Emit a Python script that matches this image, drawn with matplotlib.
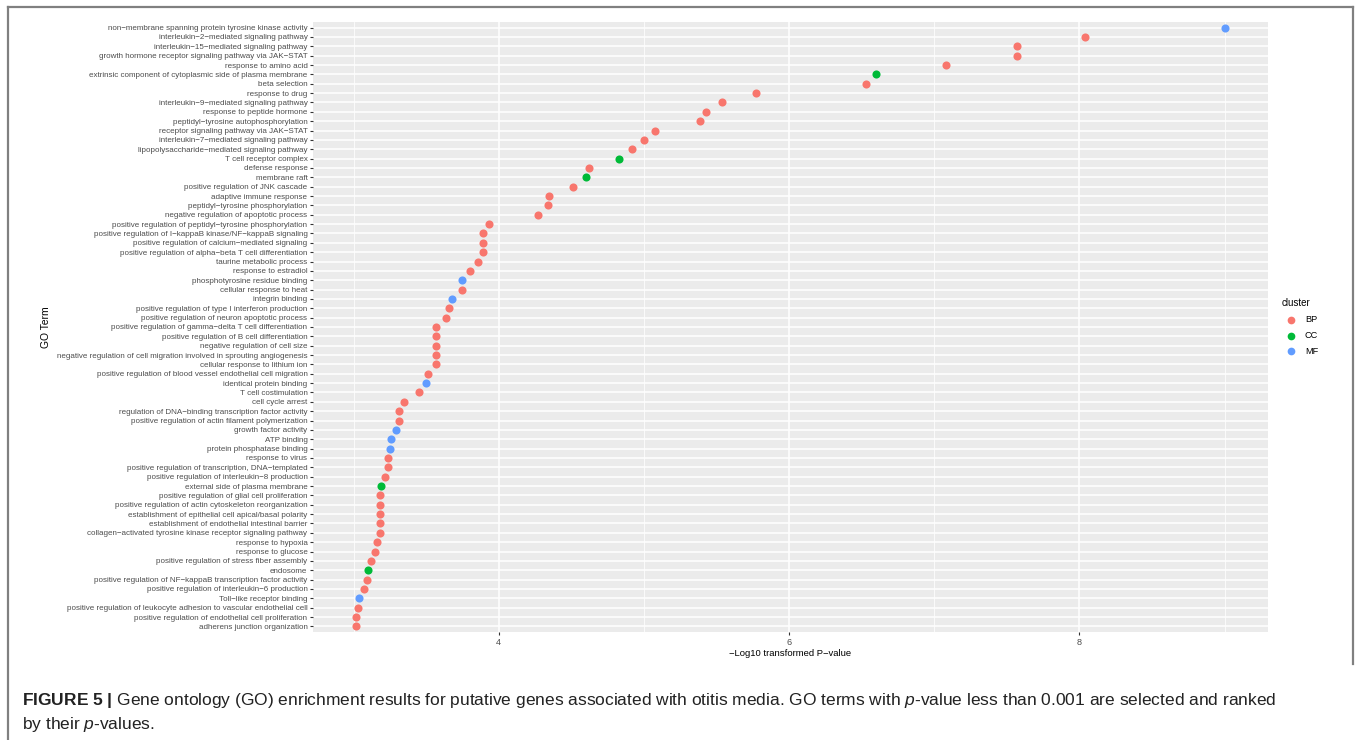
import numpy as np
import matplotlib; matplotlib.use('Agg'); import matplotlib.pyplot as plt
from matplotlib.lines import Line2D

plt.rcParams['font.family'] = ['Liberation Sans', 'DejaVu Sans']
plt.rcParams['mathtext.fontset'] = 'custom'
plt.rcParams['mathtext.rm'] = 'Liberation Sans'
plt.rcParams['mathtext.it'] = 'Liberation Sans:italic'
plt.rcParams['mathtext.bf'] = 'Liberation Sans:bold'

terms = [
    "non\u2212membrane spanning protein tyrosine kinase activity",
    "interleukin\u22122\u2212mediated signaling pathway",
    "interleukin\u221215\u2212mediated signaling pathway",
    "growth hormone receptor signaling pathway via JAK\u2212STAT",
    "response to amino acid",
    "extrinsic component of cytoplasmic side of plasma membrane",
    "beta selection",
    "response to drug",
    "interleukin\u22129\u2212mediated signaling pathway",
    "response to peptide hormone",
    "peptidyl\u2212tyrosine autophosphorylation",
    "receptor signaling pathway via JAK\u2212STAT",
    "interleukin\u22127\u2212mediated signaling pathway",
    "lipopolysaccharide\u2212mediated signaling pathway",
    "T cell receptor complex",
    "defense response",
    "membrane raft",
    "positive regulation of JNK cascade",
    "adaptive immune response",
    "peptidyl\u2212tyrosine phosphorylation",
    "negative regulation of apoptotic process",
    "positive regulation of peptidyl\u2212tyrosine phosphorylation",
    "positive regulation of I\u2212kappaB kinase/NF\u2212kappaB signaling",
    "positive regulation of calcium\u2212mediated signaling",
    "positive regulation of alpha\u2212beta T cell differentiation",
    "taurine metabolic process",
    "response to estradiol",
    "phosphotyrosine residue binding",
    "cellular response to heat",
    "integrin binding",
    "positive regulation of type I interferon production",
    "positive regulation of neuron apoptotic process",
    "positive regulation of gamma\u2212delta T cell differentiation",
    "positive regulation of B cell differentiation",
    "negative regulation of cell size",
    "negative regulation of cell migration involved in sprouting angiogenesis",
    "cellular response to lithium ion",
    "positive regulation of blood vessel endothelial cell migration",
    "identical protein binding",
    "T cell costimulation",
    "cell cycle arrest",
    "regulation of DNA\u2212binding transcription factor activity",
    "positive regulation of actin filament polymerization",
    "growth factor activity",
    "ATP binding",
    "protein phosphatase binding",
    "response to virus",
    "positive regulation of transcription, DNA\u2212templated",
    "positive regulation of interleukin\u22128 production",
    "external side of plasma membrane",
    "positive regulation of glial cell proliferation",
    "positive regulation of actin cytoskeleton reorganization",
    "establishment of epithelial cell apical/basal polarity",
    "establishment of endothelial intestinal barrier",
    "collagen\u2212activated tyrosine kinase receptor signaling pathway",
    "response to hypoxia",
    "response to glucose",
    "positive regulation of stress fiber assembly",
    "endosome",
    "positive regulation of NF\u2212kappaB transcription factor activity",
    "positive regulation of interleukin\u22126 production",
    "Toll\u2212like receptor binding",
    "positive regulation of leukocyte adhesion to vascular endothelial cell",
    "positive regulation of endothelial cell proliferation",
    "adherens junction organization",
]
neglogp = [9.00, 8.04, 7.57, 7.57, 7.08, 6.60, 6.53, 5.77, 5.54, 5.43,
           5.39, 5.08, 5.00, 4.92, 4.83, 4.62, 4.60, 4.51, 4.35, 4.34,
           4.27, 3.93, 3.89, 3.89, 3.89, 3.86, 3.80, 3.75, 3.75, 3.68,
           3.66, 3.64, 3.57, 3.57, 3.57, 3.57, 3.57, 3.51, 3.50, 3.45,
           3.35, 3.31, 3.31, 3.29, 3.26, 3.25, 3.24, 3.24, 3.22, 3.19,
           3.18, 3.18, 3.18, 3.18, 3.18, 3.16, 3.15, 3.12, 3.10, 3.09,
           3.07, 3.04, 3.03, 3.02, 3.02]
cluster = (['MF'] + ['BP']*4 + ['CC'] + ['BP']*8 + ['CC', 'BP', 'CC'] + ['BP']*10
           + ['MF', 'BP', 'MF'] + ['BP']*8 + ['MF'] + ['BP']*4 + ['MF']*3 + ['BP']*3
           + ['CC'] + ['BP']*8 + ['CC', 'BP', 'BP', 'MF', 'BP', 'BP', 'BP'])
colors = {'BP': '#F8766D', 'CC': '#00BA38', 'MF': '#619CFF'}

n = len(terms)
x = np.array(neglogp); y = n - 1 - np.arange(n)
cl = np.array(cluster)

fig = plt.figure(figsize=(13.56, 7.4), dpi=100)
ax = fig.add_axes([313/1356, 1-632/740, 955/1356, 610/740])
ax.set_facecolor('#EBEBEB')
for s in ax.spines.values(): s.set_visible(False)

rng = x.max() - x.min()
ax.set_xlim(x.min() - 0.05*rng, x.max() + 0.05*rng)
ax.set_ylim(-0.6, n - 0.4)
ax.set_xticks([4, 6, 8]); ax.set_xticks([3, 5, 7, 9], minor=True)
ax.set_yticks(y); ax.set_yticklabels(terms)
ax.grid(which='major', color='white', lw=1.1)
ax.grid(which='minor', axis='x', color='white', lw=0.55)
ax.set_axisbelow(True)
ax.tick_params(axis='both', which='major', length=2.5, width=0.8, color='#333333',
               labelsize=5.8, labelcolor='#4D4D4D', pad=1.5)
ax.tick_params(axis='x', which='major', labelsize=6.6)
ax.tick_params(axis='x', which='minor', length=0)

for c in ['BP', 'CC', 'MF']:
    m = cl == c
    ax.scatter(x[m], y[m], s=34, color=colors[c], label=c, zorder=3, linewidths=0)

ax.set_xlabel('\u2212Log10 transformed P\u2212value', fontsize=6.8, labelpad=2)
ax.set_ylabel('GO Term', fontsize=7.4, labelpad=4)

leg = ax.legend(title='cluster', loc='center left', bbox_to_anchor=(1.005, 0.5),
                frameon=False, fontsize=6.6, title_fontsize=7.0, handletextpad=0.5,
                labelspacing=0.75, markerscale=0.95, borderaxespad=0.6)
leg._legend_box.align = 'left'

# outer frame of the figure panel
fr = dict(color='#808080', lw=1.6, transform=fig.transFigure)
fig.add_artist(Line2D([8/1356, 1353/1356], [1-7/740, 1-7/740], **fr))
fig.add_artist(Line2D([8/1356, 8/1356], [1-7/740, 0], **fr))
fig.add_artist(Line2D([1353/1356, 1353/1356], [1-7/740, 1-664/740], **fr))

fig.text(22/1356, 1-705/740,
         r'$\mathbf{FIGURE\ 5\ |}$ Gene ontology (GO) enrichment results for putative genes associated with otitis media. '
         r'GO terms with $\mathit{p}$-value less than 0.001 are selected and ranked',
         fontsize=12.5, color='#222222', va='baseline')
fig.text(22/1356, 1-729/740, r'by their $\mathit{p}$-values.', fontsize=12.5,
         color='#222222', va='baseline')

fig.savefig('out.png', dpi=100)
